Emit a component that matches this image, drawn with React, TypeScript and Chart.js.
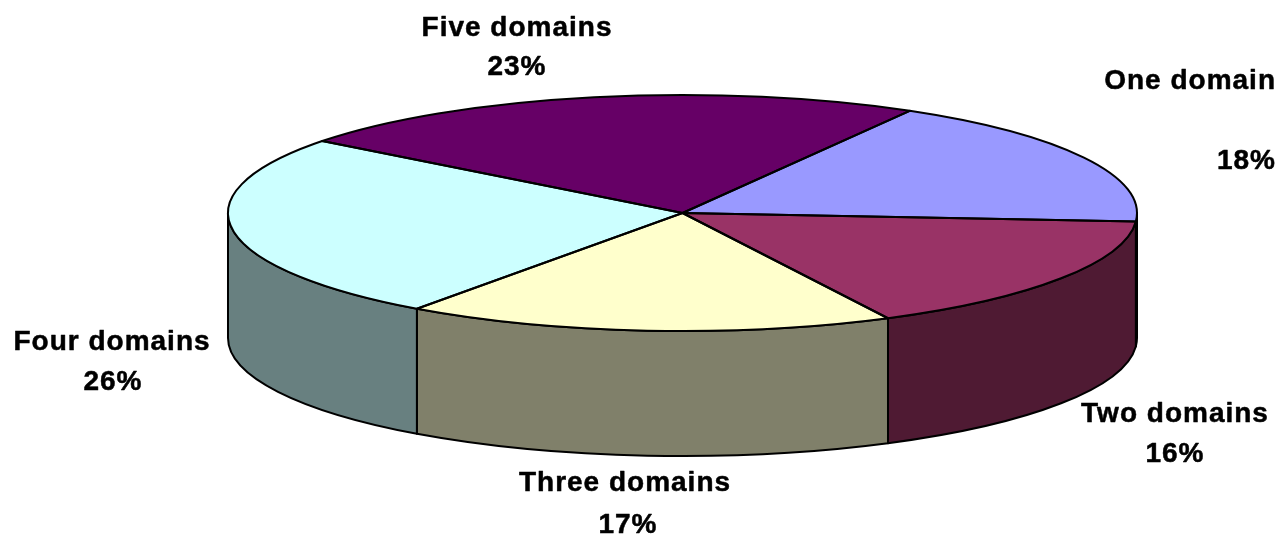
import React, { useEffect, useRef } from "react";
import { Chart, registerables } from "chart.js";

Chart.register(...registerables);

const categories = ["One domain", "Two domains", "Three domains", "Four domains", "Five domains"];
const shares = [17.8, 16.4, 17.4, 25.5, 22.9];
const topColors = ["#9999FF", "#993366", "#FFFFCC", "#CCFFFF", "#660066"];
const wallColors = ["#4D4D80", "#4F1A33", "#80806A", "#688080", "#330033"];

const CX = 682.5, CY = 213, RX = 454.5, RY = 118, DEPTH = 125;
const FONT = 'bold 28px "Liberation Sans", Arial, sans-serif';

// name position, percent position, alignment per category
const labelLayout: [number, number, number, number, CanvasTextAlign][] = [
  [1276, 81, 1276, 161, "right"],
  [1175, 414, 1175, 454, "center"],
  [625, 483, 628, 525, "center"],
  [112, 342, 113, 382, "center"],
  [517, 28, 517, 67, "center"],
];

const pie3d = {
  id: "pie3d",
  beforeDatasetDraw(chart: any) {
    const ctx = chart.ctx;
    const arcs = chart.getDatasetMeta(0).data;
    const TAU = Math.PI * 2;
    ctx.save();
    ctx.lineWidth = 2;
    ctx.strokeStyle = "#000";
    ctx.lineJoin = "round";
    arcs.forEach((arc: any, i: number) => {
      for (const shift of [0, TAU]) {
        const a = Math.max(arc.startAngle - shift, 0);
        const b = Math.min(arc.endAngle - shift, Math.PI);
        if (b <= a) continue;
        ctx.beginPath();
        ctx.ellipse(CX, CY, RX, RY, 0, a, b);
        ctx.lineTo(CX + RX * Math.cos(b), CY + RY * Math.sin(b) + DEPTH);
        ctx.ellipse(CX, CY + DEPTH, RX, RY, 0, b, a, true);
        ctx.closePath();
        ctx.fillStyle = wallColors[i];
        ctx.fill();
        ctx.stroke();
      }
    });
    ctx.restore();
    const R = arcs[0].outerRadius;
    ctx.save();
    ctx.translate(CX, CY);
    ctx.scale(RX / R, RY / R);
    ctx.translate(-arcs[0].x, -arcs[0].y);
  },
  afterDatasetDraw(chart: any) {
    const ctx = chart.ctx;
    ctx.restore();
    const arcs = chart.getDatasetMeta(0).data;
    ctx.save();
    ctx.lineWidth = 2;
    ctx.strokeStyle = "#000";
    ctx.lineJoin = "round";
    arcs.forEach((arc: any) => {
      ctx.beginPath();
      ctx.moveTo(CX, CY);
      ctx.ellipse(CX, CY, RX, RY, 0, arc.startAngle, arc.endAngle);
      ctx.closePath();
      ctx.stroke();
    });
    ctx.fillStyle = "#000";
    ctx.font = FONT;
    ctx.letterSpacing = "1px";
    ctx.textBaseline = "middle";
    ctx.lineWidth = 0.5;
    categories.forEach((name, i) => {
      const [nx, ny, px, py, align] = labelLayout[i];
      const pct = `${Math.round(shares[i])}%`;
      ctx.textAlign = align;
      ctx.fillText(name, nx, ny);
      ctx.strokeText(name, nx, ny);
      ctx.fillText(pct, px, py);
      ctx.strokeText(pct, px, py);
    });
    ctx.restore();
  },
};

export default function App() {
  const ref = useRef<HTMLCanvasElement>(null);
  useEffect(() => {
    document.body.style.margin = "0";
    document.body.style.background = "#fff";
    const chart = new Chart(ref.current!, {
      type: "pie",
      data: {
        labels: categories,
        datasets: [{ data: shares, backgroundColor: topColors, borderWidth: 0 }],
      },
      options: {
        animation: false,
        responsive: false,
        rotation: 30,
        events: [],
        layout: { padding: 0 },
        plugins: { legend: { display: false }, tooltip: { enabled: false } },
      },
      plugins: [pie3d],
    });
    return () => chart.destroy();
  }, []);
  return (
    <canvas
      ref={ref}
      width={1283}
      height={536}
      style={{ display: "block", width: 1283, height: 536, filter: "blur(0.6px)" }}
    />
  );
}
